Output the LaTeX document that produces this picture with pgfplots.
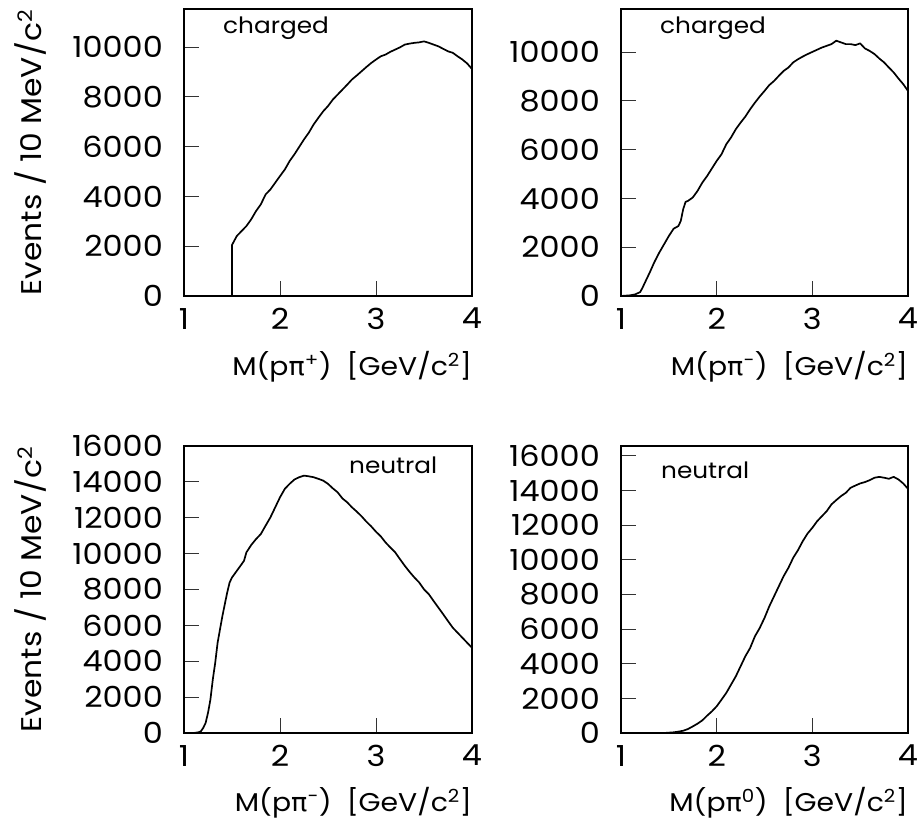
\documentclass[border=0pt]{standalone}
\usepackage{fontspec}
\setmainfont{Poppins}[FakeStretch=1.1]
\newfontfamily\gk{DejaVu Sans}[FakeStretch=1.05]
\usepackage{pgfplots}
\pgfplotsset{compat=1.18}

\newcommand{\tsz}{\fontsize{29bp}{29bp}\selectfont}
\newcommand{\lsz}{\fontsize{25.7bp}{25.7bp}\selectfont}
\newcommand{\ysz}{\fontsize{28.5bp}{28.5bp}\selectfont}
\newcommand{\csz}{\fontsize{22.5bp}{22.5bp}\selectfont}

\pgfplotsset{panel/.style={
  scale only axis, width=288bp, height=287bp, anchor=south west,
  xmin=1, xmax=4, ymin=0, xtick={1,2,3,4},
  tick align=inside, tick pos=left, major tick length=15bp,
  axis line style={line width=1.5bp},
  every tick/.style={line width=1bp, black!80},
  scaled y ticks=false, scaled x ticks=false,
  /pgf/number format/assume math mode=true,
  /pgf/number format/1000 sep={},
  ticklabel style={font=\tsz, inner sep=0pt},
  yticklabel style={xshift=-21bp},
  xticklabel style={yshift=-12bp},
  minor tick num=0,
}, hist/.style={black, line width=1.7bp, line join=round, no markers}}

\begin{document}
\begin{tikzpicture}
\useasboundingbox (0,0) rectangle (921bp,-825bp);

% top left
\begin{axis}[panel, at={(184bp,-296bp)}, ymax=11530, ytick={0,2000,...,10000}]
\addplot[hist] table {
1.00 0
1.50 0
1.50 2050
1.55 2410
1.60 2610
1.65 2810
1.70 3080
1.75 3410
1.80 3680
1.85 4080
1.90 4280
1.95 4550
2.00 4820
2.05 5080
2.10 5420
2.15 5690
2.20 5990
2.25 6290
2.30 6560
2.35 6890
2.40 7160
2.45 7420
2.50 7630
2.55 7890
2.60 8090
2.65 8290
2.70 8490
2.75 8700
2.80 8860
2.85 9030
2.90 9200
2.95 9360
3.00 9500
3.05 9630
3.10 9700
3.15 9810
3.20 9900
3.25 9990
3.30 10100
3.35 10140
3.40 10170
3.45 10190
3.50 10230
3.55 10170
3.60 10100
3.65 10030
3.70 9930
3.75 9830
3.80 9770
3.85 9630
3.90 9500
3.95 9340
4.00 9120
};
\end{axis}

% top right
\begin{axis}[panel, at={(621bp,-296bp)}, width=287bp, ymax=11770, ytick={0,2000,...,10000}]
\addplot[hist] table {
1.00 0
1.10 30
1.15 70
1.20 160
1.225 340
1.25 550
1.30 960
1.35 1400
1.40 1780
1.45 2120
1.50 2460
1.55 2760
1.60 2870
1.625 3080
1.65 3560
1.675 3860
1.70 3900
1.75 4040
1.80 4310
1.85 4650
1.90 4920
1.95 5230
2.00 5540
2.05 5810
2.10 6220
2.15 6500
2.20 6840
2.25 7110
2.30 7360
2.35 7660
2.40 7930
2.45 8180
2.50 8410
2.55 8650
2.60 8820
2.65 9030
2.70 9230
2.75 9370
2.80 9580
2.85 9710
2.90 9820
2.95 9920
3.00 10010
3.05 10100
3.10 10190
3.15 10260
3.20 10330
3.25 10470
3.30 10400
3.35 10330
3.40 10330
3.45 10290
3.50 10360
3.55 10150
3.60 10050
3.65 9920
3.70 9740
3.75 9580
3.80 9370
3.85 9170
3.90 8920
3.95 8690
4.00 8410
};
\end{axis}

% bottom left
\begin{axis}[panel, at={(184bp,-733bp)}, ymax=16000, ytick={0,2000,...,16000}]
\addplot[hist] table {
1.00 0
1.10 0
1.15 40
1.175 90
1.20 280
1.225 560
1.25 1120
1.275 1860
1.30 2980
1.325 3910
1.35 5030
1.375 5780
1.40 6520
1.425 7180
1.45 7830
1.475 8390
1.50 8670
1.55 9040
1.60 9410
1.625 9600
1.65 10070
1.70 10480
1.75 10810
1.80 11090
1.85 11560
1.90 12020
1.95 12580
2.00 13140
2.05 13610
2.10 13890
2.15 14130
2.20 14260
2.25 14350
2.30 14310
2.35 14260
2.40 14170
2.45 14070
2.50 13890
2.55 13640
2.60 13420
2.65 13080
2.70 12860
2.75 12580
2.80 12340
2.85 12080
2.90 11780
2.95 11520
3.00 11220
3.05 10960
3.10 10620
3.15 10340
3.20 10070
3.25 9690
3.30 9320
3.35 8980
3.40 8670
3.45 8390
3.50 8010
3.55 7740
3.60 7360
3.65 6990
3.70 6620
3.75 6240
3.80 5870
3.85 5590
3.90 5310
3.95 5030
4.00 4750
};
\end{axis}

% bottom right
\begin{axis}[panel, at={(621bp,-733bp)}, width=287bp, ymax=16560, ytick={0,2000,...,16000}]
\addplot[hist] table {
1.00 0
1.45 0
1.50 20
1.55 40
1.60 80
1.65 130
1.70 230
1.75 380
1.80 540
1.85 730
1.90 1000
1.95 1250
2.00 1540
2.05 1920
2.10 2310
2.15 2790
2.20 3270
2.25 3850
2.30 4430
2.35 4910
2.40 5580
2.45 6060
2.50 6640
2.55 7310
2.60 7890
2.65 8470
2.70 9050
2.75 9530
2.80 10110
2.85 10550
2.90 11070
2.95 11510
3.00 11840
3.05 12220
3.10 12510
3.15 12800
3.20 13190
3.25 13440
3.30 13670
3.35 13860
3.40 14150
3.45 14280
3.50 14400
3.55 14480
3.60 14590
3.65 14730
3.70 14780
3.75 14730
3.80 14670
3.85 14780
3.90 14630
3.95 14400
4.00 14090
};
\end{axis}

% panel texts
\node[anchor=base west, font=\csz, inner sep=0pt] at (223bp,-33bp) {charged};
\node[anchor=base west, font=\csz, inner sep=0pt] at (660bp,-33bp) {charged};
\node[anchor=base west, font=\csz, inner sep=0pt] at (349bp,-473bp) {neutral};
\node[anchor=base west, font=\csz, inner sep=0pt] at (661bp,-478bp) {neutral};

% y labels
\node[rotate=90, anchor=center, font=\ysz, inner sep=0pt] at (30bp,-152.5bp) {Events / 10 MeV/c\textsuperscript{2}};
\node[rotate=90, anchor=center, font=\ysz, inner sep=0pt] at (30bp,-589.5bp) {Events / 10 MeV/c\textsuperscript{2}};

% x labels
\node[anchor=base east, font=\lsz, inner sep=0pt] at (472bp,-375bp) {M(p{\gk π}\textsuperscript{+})\ \ [GeV/c\textsuperscript{2}]};
\node[anchor=base east, font=\lsz, inner sep=0pt] at (908bp,-375bp) {M(p{\gk π}\textsuperscript{\textminus})\ \ [GeV/c\textsuperscript{2}]};
\node[anchor=base east, font=\lsz, inner sep=0pt] at (472bp,-811bp) {M(p{\gk π}\textsuperscript{\textminus})\ \ [GeV/c\textsuperscript{2}]};
\node[anchor=base east, font=\lsz, inner sep=0pt] at (908bp,-811bp) {M(p{\gk π}\textsuperscript{0})\ \ [GeV/c\textsuperscript{2}]};
\end{tikzpicture}
\end{document}
